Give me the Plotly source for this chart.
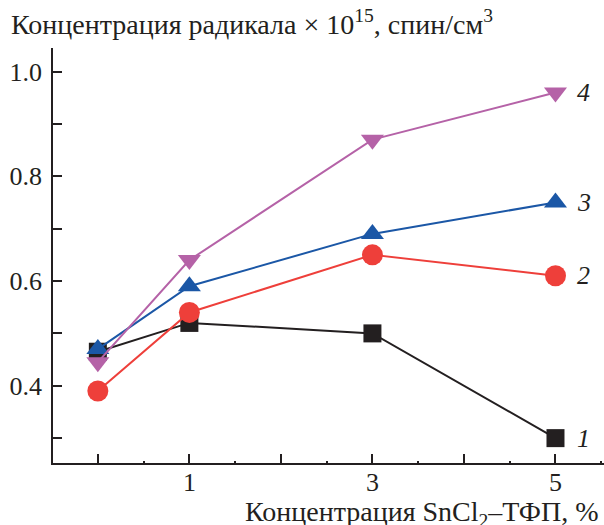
import plotly.graph_objects as go

x_vals = [0, 1, 3, 5]
series_names = ["1", "2", "3", "4"]
s1 = [0.465, 0.52, 0.50, 0.30]
s2 = [0.39, 0.54, 0.65, 0.61]
s3 = [0.47, 0.59, 0.69, 0.75]
s4 = [0.445, 0.64, 0.87, 0.96]
x_tickvals = [0, 1, 2, 3, 4, 5]
x_ticktext = ["", "1", "", "3", "", "5"]
y_tickvals = [0.4, 0.6, 0.8, 1.0]
y_ticktext = ["0.4", "0.6", "0.8", "1.0"]

colors = ["#231f20", "#ee3f3a", "#1b57a6", "#b562a7"]
symbols = ["square", "circle", "triangle-up", "triangle-down"]
sizes = [18, 21, 20, 20]
all_series = [s1, s2, s3, s4]

FONT = "Liberation Serif"
INK = "#231f20"

fig = go.Figure()
for name, ys, c, sym, sz in zip(series_names, all_series, colors, symbols, sizes):
    fig.add_trace(go.Scatter(
        x=x_vals, y=ys, mode="lines+markers", name=name,
        line=dict(color=c, width=2),
        marker=dict(symbol=sym, size=sz, color=c, line=dict(width=0)),
        showlegend=False, cliponaxis=False,
    ))
    fig.add_annotation(x=x_vals[-1], y=ys[-1], xref="x", yref="y",
                       text=f"<i>{name}</i>", showarrow=False,
                       xanchor="left", yanchor="middle", xshift=20,
                       font=dict(family=FONT, size=26, color=INK))

# x tick labels placed close under the axis line
for tv, tt in zip(x_tickvals, x_ticktext):
    if tt:
        fig.add_annotation(x=tv, y=0, xref="x", yref="paper", text=tt,
                           showarrow=False, xanchor="center", yanchor="middle",
                           yshift=-19, font=dict(family=FONT, size=26, color=INK))

fig.add_annotation(xref="paper", yref="paper", x=-0.08, y=1, yshift=26,
                   xanchor="left", yanchor="middle", showarrow=False,
                   text="Концентрация радикала × 10<sup>15</sup>, спин/см<sup>3</sup>",
                   font=dict(family=FONT, size=28, color=INK))
fig.add_annotation(xref="paper", yref="paper", x=0.995, y=0, yshift=-50,
                   xanchor="right", yanchor="middle", showarrow=False,
                   text="Концентрация SnCl<sub>2</sub>–ТФП, %",
                   font=dict(family=FONT, size=28, color=INK))

axis_common = dict(showgrid=False, zeroline=False, showline=True,
                   linecolor=INK, linewidth=1.5,
                   ticks="inside", ticklen=9, tickwidth=1.5, tickcolor=INK,
                   tickfont=dict(family=FONT, size=26, color=INK))

fig.update_xaxes(range=[-0.49, 5.53], tickmode="array", tickvals=x_tickvals,
                 showticklabels=False,
                 minor=dict(dtick=0.5, tick0=0, ticks="inside", ticklen=2,
                            tickcolor=INK, tickwidth=1.5),
                 **axis_common)
fig.update_yaxes(range=[0.2525, 1.045], tickmode="array", tickvals=y_tickvals,
                 ticktext=y_ticktext, ticklabelstandoff=4,
                 minor=dict(dtick=0.1, tick0=0, ticks="inside", ticklen=9,
                            tickcolor=INK, tickwidth=1.5),
                 **axis_common)

fig.update_layout(width=604, height=525, plot_bgcolor="white", paper_bgcolor="white",
                  margin=dict(l=53, r=0, t=48, b=62))

fig.write_html("out.html", config={"displayModeBar": False},
               post_script="document.body.style.margin='0';document.body.style.padding='0';")
